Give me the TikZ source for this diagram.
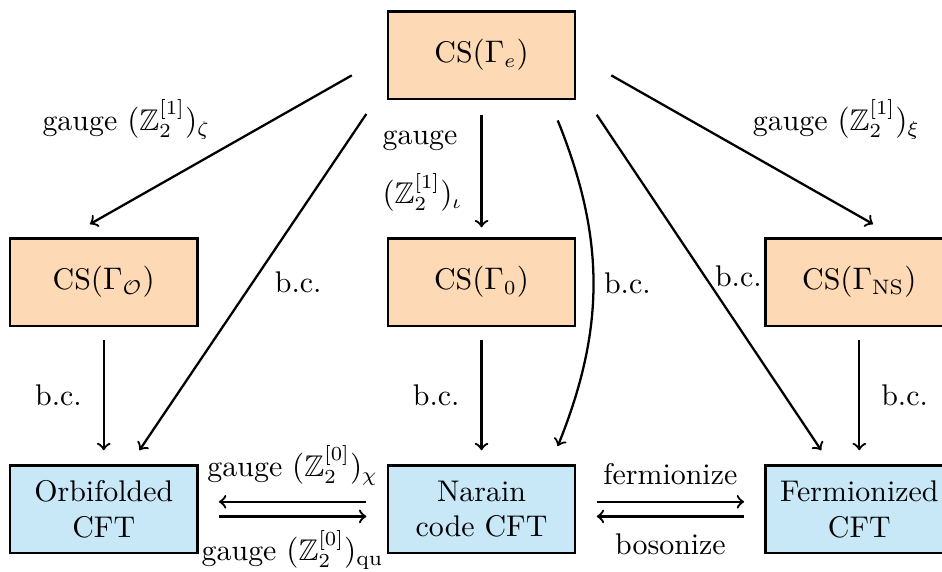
\documentclass[tikz,border=0pt]{standalone}
\usepackage{amssymb}
\usepackage{amsmath}
\usepackage{fontspec}
\usepackage{tikz}
\usetikzlibrary{arrows,calc}
\definecolor{cspeach}{RGB}{253,217,181}
\definecolor{cftblue}{RGB}{200,232,248}

\begin{document}
\begin{tikzpicture}[
  every node/.style={font=\fontsize{10.5pt}{12.6pt}\selectfont},
  csbox/.style={draw, line width=0.9pt, fill=cspeach, minimum width=2.31cm, minimum height=1.08cm},
  cftbox/.style={draw, line width=0.9pt, fill=cftblue, minimum width=2.31cm, minimum height=1.08cm, align=center},
  arr/.style={->, thick}]
\useasboundingbox (0,0) rectangle (11.62,-7.05);
\clip (0,0) rectangle (11.62,-7.05);
\node[csbox] (topcs) at (5.94,-0.68) {CS$(\Gamma_e)$};
\node[csbox] (csorb) at (1.28,-3.48) {CS$(\Gamma_{\mathcal{O}})$};
\node[csbox] (cszero) at (5.94,-3.48) {CS$(\Gamma_0)$};
\node[csbox] (csns) at (10.60,-3.48) {CS$(\Gamma_{\mathrm{NS}})$};
\node[cftbox] (orb) at (1.28,-6.28) {Orbifolded\\CFT};
\node[cftbox] (narain) at (5.94,-6.28) {Narain\\code CFT};
\node[cftbox] (ferm) at (10.60,-6.28) {Fermionized\\CFT};

\draw[arr] ($(topcs.west)+(-0.43,-0.25)$) -- node[midway, above left] {gauge $(\mathbb{Z}_2^{[1]})_\zeta$} ($(csorb.north)+(-0.17,0.16)$);
\draw[arr] ($(topcs.south west)+(-0.25,-0.17)$) -- node[midway, right=4pt] {b.c.} ($(orb.north)+(0.44,0.17)$);
\draw[arr] ($(topcs.south)+(0,-0.18)$) -- node[midway, left=3pt, align=left] {gauge\\[7pt]$(\mathbb{Z}_2^{[1]})_\iota$} ($(cszero.north)+(0,0.12)$);
\draw[arr] ($(topcs.south)+(0.94,-0.25)$) to[bend left=22] node[midway, right] {b.c.} ($(narain.north)+(0.94,0.22)$);
\draw[arr] ($(topcs.south east)+(0.25,-0.18)$) -- node[pos=0.48, right] {b.c.} ($(ferm.north)+(-0.47,0.17)$);
\draw[arr] ($(topcs.east)+(0.43,-0.25)$) -- node[midway, above right] {gauge $(\mathbb{Z}_2^{[1]})_\xi$} ($(csns.north)+(0.17,0.16)$);

\draw[arr] ($(csorb.south)+(0,-0.16)$) -- node[midway, left=4pt] {b.c.} ($(orb.north)+(0,0.17)$);
\draw[arr] ($(cszero.south)+(0,-0.16)$) -- node[midway, left=4pt] {b.c.} ($(narain.north)+(0,0.17)$);
\draw[arr] ($(csns.south)+(0,-0.16)$) -- node[midway, right=4pt] {b.c.} ($(ferm.north)+(0,0.17)$);

\draw[arr] ($(narain.west)+(-0.25,0.09)$) -- node[midway, anchor=base, yshift=0.31cm] {gauge $(\mathbb{Z}_2^{[0]})_\chi$} ($(orb.east)+(0.25,0.09)$);
\draw[arr] ($(orb.east)+(0.25,-0.09)$) -- node[midway, anchor=base, yshift=-0.55cm] {gauge $(\mathbb{Z}_2^{[0]})_{\mathrm{qu}}$} ($(narain.west)+(-0.25,-0.09)$);
\draw[arr] ($(narain.east)+(0.25,0.09)$) -- node[midway, anchor=base, yshift=0.21cm] {fermionize} ($(ferm.west)+(-0.25,0.09)$);
\draw[arr] ($(ferm.west)+(-0.25,-0.09)$) -- node[midway, anchor=base, yshift=-0.47cm] {bosonize} ($(narain.east)+(0.25,-0.09)$);
\end{tikzpicture}
\end{document}
